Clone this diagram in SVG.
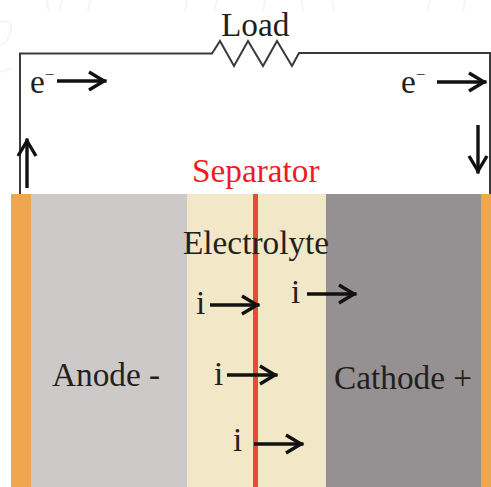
<svg xmlns="http://www.w3.org/2000/svg" width="491" height="487" viewBox="0 0 491 487">
<style>
text{font-family:"Liberation Serif","Times New Roman",serif;fill:#231f20;font-size:33.300px}
.w{fill:none;stroke:#3a3a3a;stroke-width:2}
.a{fill:none;stroke:#111;stroke-width:3.4}
.f{fill:none;stroke:#f5f5f5;stroke-width:2}
.sup{font-size:17px}
</style>
<defs>
<marker id="h" markerUnits="userSpaceOnUse" markerWidth="20" markerHeight="24" refX="18.500" refY="10" orient="auto" overflow="visible">
<path d="M1 1L16 10L1 19" fill="none" stroke="#111" stroke-width="3.4"/>
</marker>
</defs>
<rect width="491" height="487" fill="#fff"/>
<path class="f" d="M47 0L49 12M62 0L59 12M90 0L88 12M187 0L185 12M217 0L214 12M265 0L263 12M302 0L303 12M332 0L334 12M430 0L427 12M465 0L463 12M0 22Q12 19 11 30Q9 42 0 46M0 72L12 68"/>
<g id="anode"><rect x="11" y="194" width="20" height="293" fill="#f0a64e"/><rect x="31" y="194" width="156" height="293" fill="#cdc9c8"/><text x="52" y="386">Anode -</text></g>
<g id="electrolyte"><rect x="187" y="194" width="139" height="293" fill="#f2e7c7"/></g>
<g id="cathode"><rect x="326" y="194" width="155" height="293" fill="#959091"/><rect x="481" y="194" width="10" height="293" fill="#f0a64e"/><text x="334" y="389">Cathode +</text></g>
<g id="separator"><rect x="253" y="194" width="5" height="293" fill="#e54b38"/><text x="192" y="182" style="fill:#ed1c24">Separator</text></g>
<text id="electrolyte-label" x="183" y="254">Electrolyte</text>
<g id="load"><text x="221" y="36">Load</text></g>
<g id="connectors">
<path class="w" d="M20 194V53.500H212L220 41L234 66L248 41L263 66L277 41L292 66L299 53H490V194"/>
<path class="a" marker-end="url(#h)" d="M57 81H106.500"/>
<path class="a" marker-end="url(#h)" d="M437 82H486.500"/>
<path class="a" marker-end="url(#h)" d="M27 188V138.500"/>
<path class="a" marker-end="url(#h)" d="M478 125V173.500"/>
<path class="a" marker-end="url(#h)" d="M210 305H259.500"/>
<path class="a" marker-end="url(#h)" d="M307 294H356.500"/>
<path class="a" marker-end="url(#h)" d="M227 375H277.500"/>
<path class="a" marker-end="url(#h)" d="M254 444H303.500"/>
</g>
<g id="labels">
<text x="30" y="93">e<tspan class="sup" dy="-13">−</tspan></text>
<text x="401" y="93">e<tspan class="sup" dy="-13">−</tspan></text>
<text x="196" y="314">i</text>
<text x="291" y="303">i</text>
<text x="214" y="385">i</text>
<text x="233" y="451">i</text>
</g>
</svg>
